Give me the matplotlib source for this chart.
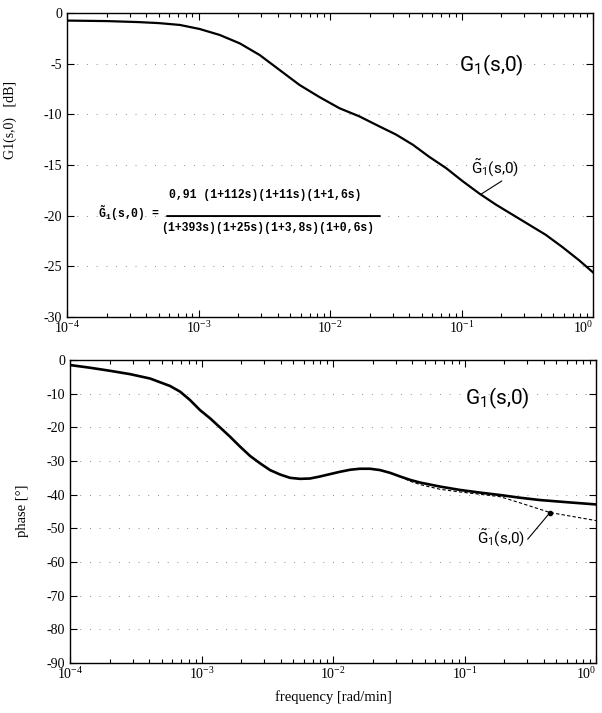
import matplotlib
matplotlib.use('Agg')
import matplotlib.pyplot as plt
from matplotlib.ticker import LogLocator, NullFormatter

plt.rcParams['font.family'] = ['Liberation Serif', 'DejaVu Serif']
plt.rcParams['mathtext.fontset'] = 'custom'
plt.rcParams['mathtext.rm'] = 'Roboto'
plt.rcParams['mathtext.it'] = 'Roboto'
plt.rcParams['mathtext.tt'] = 'Liberation Mono:bold'

# gain of G1(s,0) [dB] (exact and approximation coincide)
mag_freq = [1e-4, 2e-4, 3.5e-4, 5e-4, 7.21e-4, 1.02e-3, 1.45e-3, 2.06e-3,
            2.92e-3, 4.14e-3, 5.86e-3, 8.32e-3, 1.18e-2, 1.67e-2, 2.38e-2,
            3.18e-2, 4.26e-2, 5.69e-2, 7.62e-2, 0.102, 0.136, 0.182, 0.244,
            0.327, 0.438, 0.585, 0.783, 1.0]
mag_db = [-0.75, -0.8, -0.9, -1.0, -1.18, -1.58, -2.17, -3.0,
          -4.15, -5.63, -7.1, -8.3, -9.4, -10.2, -11.2,
          -12.0, -13.0, -14.2, -15.3, -16.6, -17.8, -18.9, -19.9,
          -20.9, -21.9, -23.1, -24.4, -25.6]

# phase of G1(s,0) [deg]
phase_freq = [1e-4, 1.42e-4, 2.01e-4, 2.86e-4, 4.06e-4, 5.75e-4, 6.87e-4,
              8.18e-4, 9.75e-4, 1.16e-3, 1.38e-3, 1.65e-3, 1.96e-3, 2.34e-3,
              2.79e-3, 3.32e-3, 3.95e-3, 4.71e-3, 5.61e-3, 6.68e-3, 7.96e-3,
              9.48e-3, 1.13e-2, 1.35e-2, 1.60e-2, 1.91e-2, 2.28e-2, 2.71e-2,
              3.24e-2, 3.85e-2, 4.59e-2, 6.52e-2, 9.25e-2, 0.132, 0.186,
              0.263, 0.375, 0.63, 1.0]
phase_deg = [-1.5, -2.3, -3.2, -4.2, -5.5, -7.7, -9.4,
             -11.9, -14.9, -17.3, -20.0, -22.8, -25.7, -28.5,
             -30.7, -32.7, -34.0, -35.0, -35.3, -35.2, -34.6,
             -33.9, -33.2, -32.6, -32.3, -32.3, -32.7, -33.5,
             -34.6, -35.6, -36.4, -37.6, -38.6, -39.4, -40.1,
             -40.9, -41.6, -42.3, -42.9]

# phase of the approximation, where it leaves the exact curve
approx_freq = [3.24e-2, 3.85e-2, 4.59e-2, 6.52e-2, 9.25e-2, 0.132, 0.186,
               0.263, 0.447, 1.0]
approx_deg = [-34.6, -36.0, -37.0, -38.4, -39.2, -39.9, -40.6,
              -42.4, -45.3, -47.7]

mag_ticks = [0, -5, -10, -15, -20, -25, -30]
phase_ticks = [0, -10, -20, -30, -40, -50, -60, -70, -80, -90]
freq_ticks = [1e-4, 1e-3, 1e-2, 1e-1, 1e0]
freq_labels = [r'$\mathdefault{10^{-4}}$', r'$\mathdefault{10^{-3}}$',
               r'$\mathdefault{10^{-2}}$', r'$\mathdefault{10^{-1}}$',
               r'$\mathdefault{10^{0}}$']

numerator = '0,91 (1+112s)(1+11s)(1+1,6s)'
denominator = '(1+393s)(1+25s)(1+3,8s)(1+0,6s)'


def style(ax, yticks):
    ax.set_xscale('log')
    ax.set_xlim(1e-4, 1)
    ax.set_ylim(yticks[-1], yticks[0])
    ax.set_yticks(yticks)
    ax.set_yticklabels([str(v) for v in yticks])
    ax.set_xticks(freq_ticks)
    ax.set_xticklabels(freq_labels)
    ax.get_xticklabels()[-1].set_horizontalalignment('right')
    ax.xaxis.set_minor_locator(LogLocator(base=10, subs=range(2, 10)))
    ax.xaxis.set_minor_formatter(NullFormatter())
    ax.tick_params(which='both', direction='in', top=True, right=True,
                   labelsize=10, width=0.8)
    ax.tick_params(which='major', length=5)
    ax.tick_params(which='minor', length=3)
    ax.tick_params(axis='x', pad=2)
    ax.grid(axis='y', linestyle=(0, (1, 9)), color='0.55', lw=0.7)
    for s in ax.spines.values():
        s.set_linewidth(1.0)


fig = plt.figure(figsize=(6.02, 7.13), dpi=100)
ax1 = fig.add_axes([0.1113, 0.5554, 0.8738, 0.4264])
ax2 = fig.add_axes([0.1163, 0.0701, 0.8738, 0.4250])

# --- gain
style(ax1, mag_ticks)
ax1.plot(mag_freq, mag_db, color='black', lw=1.6)
ax1.set_ylabel('G1(s,0)   [dB]', fontsize=10)
ax1.yaxis.set_label_coords(-0.095, 0.648)
ax1.text(0.806, 0.829, r'$\mathrm{G_1(s{,}0)}$', transform=ax1.transAxes,
         fontsize=15, ha='center', va='center')

# approximating transfer function
mono = dict(fontfamily='Liberation Mono', fontweight='bold', fontsize=8.3,
            transform=ax1.transAxes)
ax1.text(0.059, 0.342, r'$\mathtt{\tilde{G}_1}$(s,0) =', ha='left',
         va='center', **mono)
ax1.text(0.376, 0.401, numerator, ha='center', va='center', **mono)
ax1.text(0.381, 0.293, denominator, ha='center', va='center', **mono)
ax1.annotate('', xy=(0.595, 0.332), xytext=(0.190, 0.332),
             xycoords='axes fraction',
             arrowprops=dict(arrowstyle='-', lw=1.4, color='black',
                             shrinkA=0, shrinkB=0))

ax1.annotate(r'$\mathrm{\tilde{G}_1(s{,}0)}$', xy=(0.14, -17.9),
             xytext=(0.1186, -16.3), textcoords='data',
             fontsize=11, ha='left', va='bottom',
             arrowprops=dict(arrowstyle='-', lw=0.8, color='black',
                             relpos=(0.58, 0.05), shrinkA=0, shrinkB=0,
                             connectionstyle='angle,angleA=0,angleB=32.5,rad=0'))

# --- phase
style(ax2, phase_ticks)
ax2.plot(approx_freq, approx_deg, color='black', lw=0.8, ls=(0, (3, 2)))
ax2.plot(phase_freq, phase_deg, color='black', lw=1.9)
ax2.plot([0.447], [-45.3], 'o', color='black', ms=3)
ax2.set_ylabel('phase [°]', fontsize=10.5)
ax2.yaxis.set_label_coords(-0.078, 0.502)
ax2.set_xlabel('frequency [rad/min]', fontsize=10.5)
ax2.xaxis.set_label_coords(0.5, -0.089)
ax2.text(0.812, 0.875, r'$\mathrm{G_1(s{,}0)}$', transform=ax2.transAxes,
         fontsize=15, ha='center', va='center')
ax2.annotate(r'$\mathrm{\tilde{G}_1(s{,}0)}$', xy=(0.447, -45.3),
             xytext=(0.1245, -55.8), textcoords='data',
             fontsize=11, ha='left', va='bottom',
             arrowprops=dict(arrowstyle='-', lw=0.8, color='black',
                             relpos=(0.5, 0.0), shrinkA=0, shrinkB=0,
                             connectionstyle='angle,angleA=0,angleB=50,rad=0'))

fig.savefig('out.png', dpi=100)
